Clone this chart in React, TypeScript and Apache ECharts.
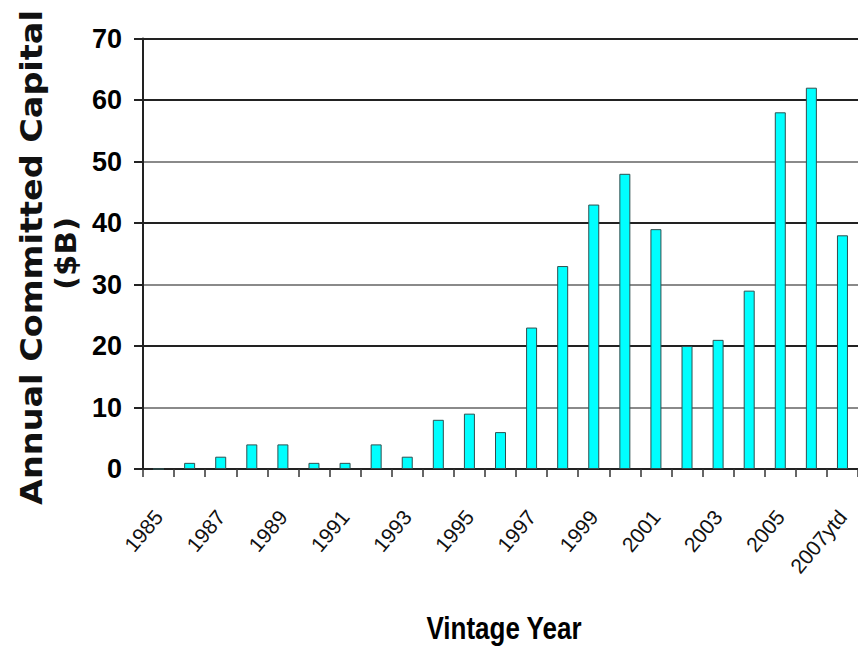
import React, { useEffect, useRef } from "react";
import * as echarts from "echarts";

const categories: string[] = [
  "1985", "1986", "1987", "1988", "1989", "1990", "1991", "1992", "1993", "1994",
  "1995", "1996", "1997", "1998", "1999", "2000", "2001", "2002", "2003", "2004",
  "2005", "2006", "2007ytd",
];
const committedCapital: number[] = [
  0, 1, 2, 4, 4, 1, 1, 4, 2, 8, 9, 6, 23, 33, 43, 48, 39, 20, 21, 29, 58, 62, 38,
];
const yMin = 0;
const yMax = 70;
const yInterval = 10;
const yTitleMain = "Annual Committed Capital";
const yTitleUnit = "($B)";
const xTitle = "Vintage Year";

const gridColors = ["#222", "#8a8a8a", "#222", "#8a8a8a", "#222", "#8a8a8a", "#222", "#222"];

export default function App() {
  const ref = useRef<HTMLDivElement>(null);
  useEffect(() => {
    if (!ref.current) return;
    const chart = echarts.init(ref.current, undefined, { renderer: "svg" });
    const sans = '"Liberation Sans", Arial, sans-serif';
    chart.setOption({
      animation: false,
      backgroundColor: "#ffffff",
      grid: { left: 143, top: 38.5, right: -6, bottom: 184, containLabel: false },
      xAxis: {
        type: "category",
        data: categories,
        boundaryGap: true,
        axisLine: { show: true, lineStyle: { color: "#222", width: 2 } },
        axisTick: { show: true, interval: 0, length: 8, lineStyle: { color: "#333", width: 1.5 } },
        axisLabel: {
          interval: 1,
          rotate: 50,
          margin: 44,
          fontFamily: sans,
          fontSize: 21,
          color: "#111",
        },
        splitLine: { show: false },
      },
      yAxis: {
        type: "value",
        min: yMin,
        max: yMax,
        interval: yInterval,
        axisLine: { show: true, lineStyle: { color: "#222", width: 2 } },
        axisTick: { show: true, length: 9, lineStyle: { color: "#222", width: 2 } },
        axisLabel: {
          margin: 21,
          fontFamily: sans,
          fontWeight: "bold",
          fontSize: 27,
          color: "#000",
        },
        splitLine: { show: true, lineStyle: { color: gridColors, width: 2 } },
      },
      series: [
        {
          type: "bar",
          data: committedCapital,
          barWidth: 11,
          itemStyle: { color: "#00ffff", borderColor: "#2f4f4f", borderWidth: 1 },
        },
      ],
      graphic: [
        {
          type: "text",
          x: 31,
          y: 257.5,
          rotation: Math.PI / 2,
          scaleX: 1.08,
          style: {
            text: yTitleMain,
            font: 'bold 31px "DejaVu Sans", sans-serif',
            fill: "#111",
            align: "center",
            verticalAlign: "middle",
          },
        },
        {
          type: "text",
          x: 66,
          y: 253.5,
          rotation: Math.PI / 2,
          scaleX: 1.1,
          style: {
            text: yTitleUnit,
            font: 'bold 28px "DejaVu Sans", sans-serif',
            fill: "#111",
            align: "center",
            verticalAlign: "middle",
          },
        },
        {
          type: "text",
          x: 504,
          y: 627,
          scaleY: 1.24,
          style: {
            text: xTitle,
            font: 'bold 26px "Liberation Sans", Arial, sans-serif',
            fill: "#000",
            align: "center",
            verticalAlign: "middle",
          },
        },
      ],
    });
    return () => chart.dispose();
  }, []);
  return (
    <div
      ref={ref}
      style={{ position: "absolute", left: 0, top: 0, width: 858, height: 653 }}
    />
  );
}
